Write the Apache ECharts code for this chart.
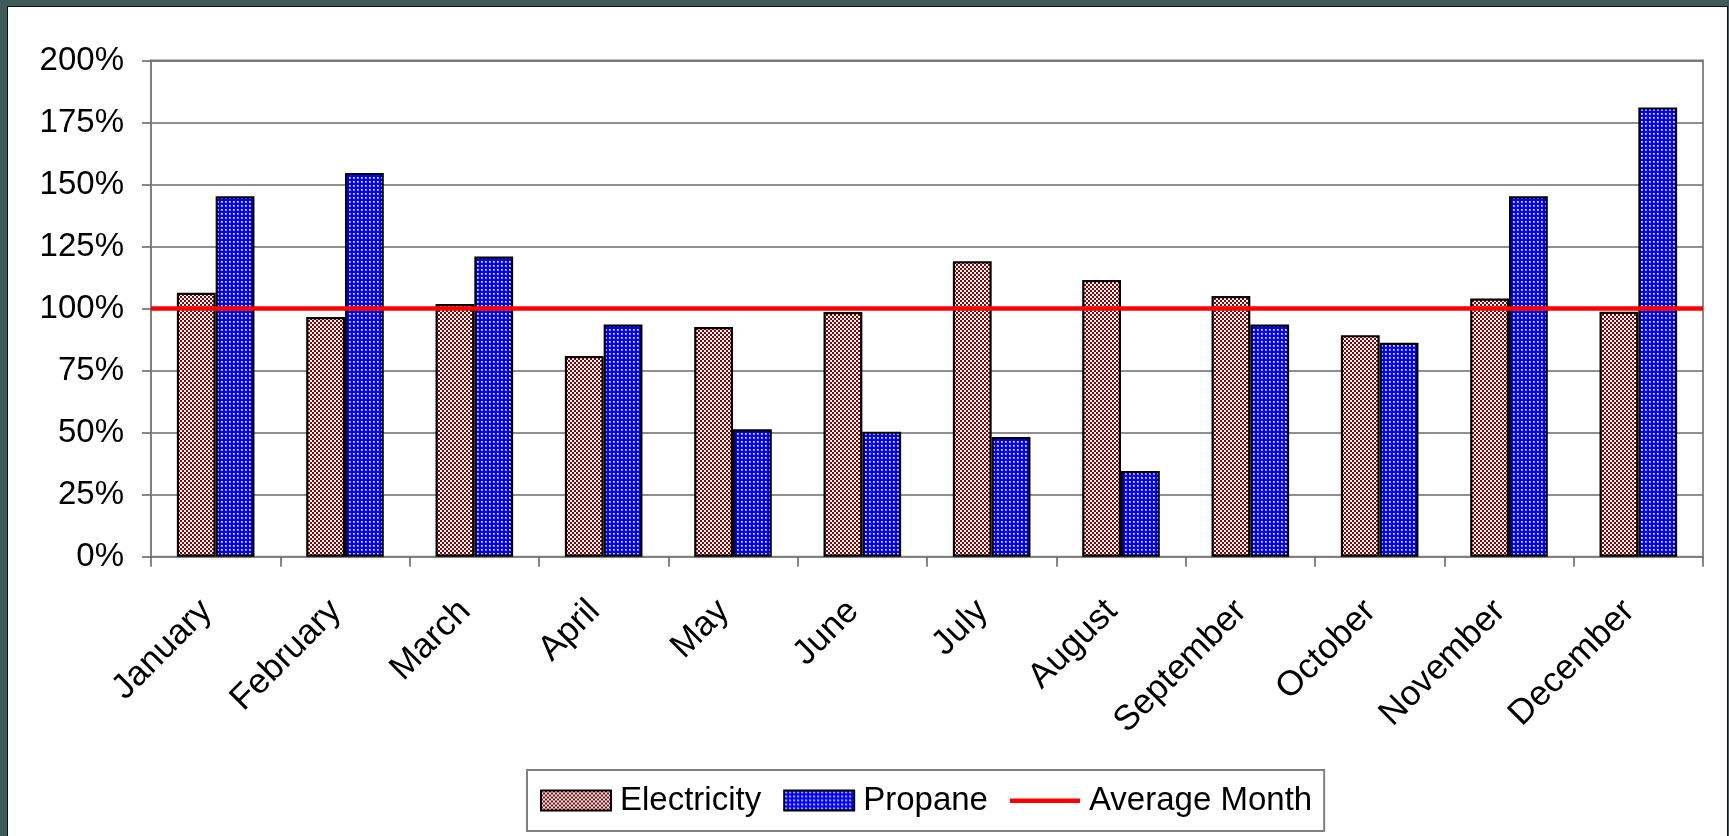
<!DOCTYPE html>
<html>
<head>
<meta charset="utf-8">
<script src="https://cdn.jsdelivr.net/npm/echarts@6/dist/echarts.min.js"></script>
<style>
  html, body { margin: 0; padding: 0; width: 1729px; height: 836px; overflow: hidden; background: #3f5a5a; }
  #panel { position: absolute; left: 7px; top: 6px; width: 1719px; height: 840px; background: #ffffff; border-left: 1px solid #111; border-top: 1px solid #111; border-right: 1px solid #111; }
  #chart { position: absolute; left: 0; top: 0; width: 1729px; height: 836px; }
</style>
</head>
<body>
<div id="panel"></div>
<div id="chart"></div>
<script>
// ---- data ----
var months = ['January', 'February', 'March', 'April', 'May', 'June', 'July', 'August', 'September', 'October', 'November', 'December'];
var electricity = [106.4, 96.6, 101.9, 80.9, 92.6, 98.6, 119.1, 111.5, 105.1, 89.3, 104.1, 98.7];
var propane = [145.3, 154.7, 121.0, 93.6, 51.4, 50.4, 48.2, 34.5, 93.6, 86.2, 145.3, 181.1];
var averageMonth = 100;
var yMin = 0, yMax = 200, yStep = 25;

// ---- fill patterns ----
function makeElecPattern() {
  var c = document.createElement('canvas');
  c.width = 4; c.height = 4;
  var g = c.getContext('2d');
  g.fillStyle = '#ffffff'; g.fillRect(0, 0, 4, 4);
  g.fillStyle = '#8b0000';
  g.fillRect(0, 0, 2, 2);
  g.fillRect(2, 2, 2, 2);
  return c;
}
function makePropPattern() {
  var c = document.createElement('canvas');
  c.width = 4; c.height = 4;
  var g = c.getContext('2d');
  g.fillStyle = '#0000ff'; g.fillRect(0, 0, 4, 4);
  g.fillStyle = '#9a9aff';
  g.fillRect(1, 1, 2, 2);
  g.fillStyle = '#ffffff';
  g.fillRect(1, 1, 1, 1);
  return c;
}

var chart = echarts.init(document.getElementById('chart'), null, { renderer: 'canvas' });
var font = "'Liberation Sans', Arial, sans-serif";
var lineIcon = 'path://M0,0 M70,20 M0,8 L70,8 L70,12.5 L0,12.5 Z';

chart.setOption({
  backgroundColor: 'transparent',
  animation: false,
  textStyle: { fontFamily: font, color: '#000' },
  grid: {
    left: 151, right: 26, top: 60.5, bottom: 279.3,
    show: true, borderColor: '#8a8a8a', borderWidth: 2, backgroundColor: 'transparent'
  },
  legend: {
    left: 527, top: 770,
    orient: 'horizontal',
    icon: 'rect',
    itemWidth: 70, itemHeight: 20, itemGap: 22,
    padding: [14, 12, 14, 13],
    borderColor: '#808080', borderWidth: 2,
    textStyle: { fontSize: 33, color: '#000', fontFamily: font, padding: [0, 0, 0, 4] },
    data: [
      { name: 'Electricity', icon: 'rect' },
      { name: 'Propane', icon: 'rect' },
      { name: 'Average Month', icon: lineIcon, itemStyle: { color: '#ff0000', borderWidth: 0 } }
    ]
  },
  xAxis: {
    type: 'category',
    data: months,
    boundaryGap: true,
    axisLine: { show: true, lineStyle: { color: '#808080', width: 2 } },
    axisTick: { show: true, length: 10, alignWithLabel: false, lineStyle: { color: '#606060', width: 1.5 } },
    axisLabel: { interval: 0, rotate: 45, fontSize: 35, color: '#000', margin: 40, padding: [0, 13, 0, 0], fontFamily: font },
    splitLine: { show: false }
  },
  yAxis: {
    type: 'value',
    min: yMin, max: yMax, interval: yStep,
    axisLine: { show: true, lineStyle: { color: '#808080', width: 2 } },
    axisTick: { show: true, length: 9, lineStyle: { color: '#606060', width: 1.5 } },
    axisLabel: { fontSize: 33, color: '#000', margin: 27, formatter: '{value}%', fontFamily: font },
    splitLine: { show: true, lineStyle: { color: '#6a6a6a', width: 1.5 } }
  },
  series: [
    {
      name: 'Electricity', type: 'bar', data: electricity,
      barGap: '0%', barCategoryGap: '40%',
      itemStyle: { color: { image: makeElecPattern(), repeat: 'repeat' }, borderColor: '#000', borderWidth: 2.2 },
      emphasis: { disabled: true }
    },
    {
      name: 'Propane', type: 'bar', data: propane,
      barGap: '0%', barCategoryGap: '40%',
      itemStyle: { color: { image: makePropPattern(), repeat: 'repeat' }, borderColor: '#000', borderWidth: 2.2 },
      emphasis: { disabled: true }
    },
    {
      name: 'Average Month', type: 'line', data: [],
      symbol: 'none', showSymbol: false, z: 5,
      itemStyle: { color: '#ff0000' },
      lineStyle: { color: '#ff0000', width: 4 },
      markLine: {
        silent: true, symbol: ['none', 'none'],
        label: { show: false },
        lineStyle: { color: '#ff0000', width: 4.5, type: 'solid' },
        emphasis: { disabled: true },
        data: [{ yAxis: averageMonth }]
      }
    }
  ]
});
</script>
</body>
</html>
